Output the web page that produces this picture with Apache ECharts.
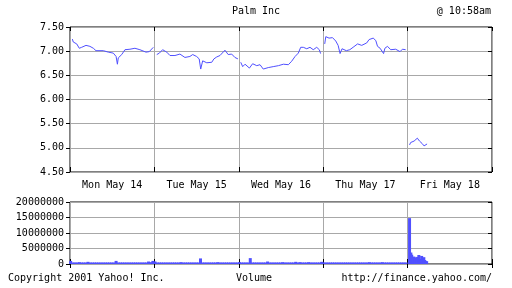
<!DOCTYPE html>
<html><head><meta charset="utf-8">
<script src="https://cdn.jsdelivr.net/npm/echarts@6/dist/echarts.min.js"></script>
<style>html,body{margin:0;padding:0;background:#fff}#c{width:512px;height:288px}</style>
</head><body><div id="c"></div>
<script>
const days = ["Mon May 14","Tue May 15","Wed May 16","Thu May 17","Fri May 18"];
// [minute since open, price]
const monPrice = [[11,7.25],[15,7.19],[31,7.15],[43,7.06],[54,7.08],[74,7.12],[92,7.10],[108,7.06],[120,7.01],[154,7.01],[177,6.98],[200,6.96],[213,6.89],[219,6.73],[223,6.86],[239,6.93],[254,7.03],[277,7.04],[300,7.06],[323,7.03],[351,6.98],[366,6.99],[385,7.08]];
const tuePrice = [[11,6.93],[23,6.96],[38,7.03],[57,6.98],[72,6.91],[95,6.91],[118,6.94],[141,6.87],[164,6.89],[177,6.93],[195,6.89],[207,6.84],[214,6.63],[223,6.80],[242,6.76],[265,6.77],[275,6.84],[288,6.88],[303,6.91],[326,7.02],[341,6.93],[357,6.94],[372,6.87],[386,6.84]];
const wedPrice = [[9,6.77],[18,6.68],[29,6.73],[49,6.65],[64,6.74],[83,6.70],[98,6.72],[113,6.63],[136,6.66],[159,6.68],[183,6.70],[206,6.73],[229,6.72],[244,6.79],[260,6.89],[275,6.96],[286,7.08],[298,7.08],[314,7.05],[329,7.08],[344,7.03],[360,7.08],[372,7.03],[378,6.95]];
const thuPrice = [[7,7.15],[12,7.30],[27,7.27],[43,7.28],[58,7.21],[69,7.12],[78,6.95],[87,7.05],[107,7.01],[123,7.03],[138,7.08],[159,7.15],[178,7.12],[201,7.17],[212,7.24],[231,7.27],[243,7.22],[251,7.10],[263,7.06],[279,6.95],[285,7.06],[297,7.10],[312,7.03],[335,7.04],[355,6.99],[366,7.04],[381,7.03]];
const friPrice = [[9,5.06],[14,5.11],[30,5.14],[45,5.20],[55,5.14],[67,5.09],[76,5.04],[90,5.08]];
// volume every 10 minutes (millions)
const monVol = [1.0,0.5,0.5,0.5,0.6,0.5,0.5,0.5,0.7,0.5,0.5,0.5,0.5,0.5,0.5,0.5,0.5,0.5,0.5,0.5,0.5,1.0,0.5,0.5,0.5,0.5,0.5,0.5,0.5,0.5,0.5,0.5,0.5,0.5,0.5,0.5,0.8,0.6,1.0];
const tueVol = [0.8,0.5,0.5,0.5,0.5,0.5,0.5,0.5,0.5,0.5,0.5,0.5,0.6,0.5,0.5,0.5,0.5,0.5,0.5,0.5,0.5,1.8,0.5,0.5,0.5,0.5,0.5,0.5,0.5,0.6,0.5,0.5,0.5,0.5,0.5,0.5,0.5,0.5,0.5];
const wedVol = [0.6,0.5,0.5,0.5,0.5,1.9,0.5,0.5,0.5,0.5,0.5,0.5,0.5,0.8,0.5,0.5,0.5,0.5,0.5,0.5,0.6,0.5,0.5,0.5,0.5,0.5,0.7,0.5,0.6,0.5,0.5,0.5,0.6,0.5,0.5,0.5,0.5,0.5,0.7];
const thuVol = [0.5,0.5,0.5,0.5,0.5,0.5,0.5,0.5,0.5,0.5,0.5,0.5,0.5,0.5,0.5,0.5,0.5,0.5,0.5,0.5,0.5,0.6,0.5,0.5,0.5,0.5,0.5,0.6,0.5,0.5,0.5,0.5,0.5,0.5,0.5,0.5,0.5,0.5,0.5];
const friVol = [[9,14.8],[15,3.7],[19,3.0],[24,2.2],[29,2.4],[33,2.0],[38,1.8],[42,2.2],[47,2.3],[52,2.9],[56,1.5],[61,1.6],[65,2.6],[70,1.8],[75,2.2],[79,1.3],[84,1.0],[88,0.9]];

const DAY = 390;
const priceData = [];
[monPrice,tuePrice,wedPrice,thuPrice,friPrice].forEach((arr,d)=>{
  arr.forEach(p=>priceData.push([d*DAY+p[0],p[1]]));
  priceData.push([d*DAY+DAY-1,null]);
});
const volData = [];
[monVol,tueVol,wedVol,thuVol].forEach((arr,d)=>{
  arr.forEach((v,i)=>volData.push([d*DAY+i*10+3,v*1e6]));
});
friVol.forEach(p=>volData.push([4*DAY+p[0],p[1]*1e6]));

const FONT = 'DejaVu Sans Mono';
const GRID = '#a8a8a8';
const BLUE = '#5050ff';
const txt = {fontFamily:FONT,fontSize:10,color:'#000',fontWeight:'normal'};

const chart = echarts.init(document.getElementById('c'),null,{renderer:'canvas'});
function catX(g){return {type:'category',gridIndex:g,data:days,position:'bottom',boundaryGap:true,
  axisLine:{show:false},axisTick:{show:true,inside:true,length:5,lineStyle:{color:'#000'}},
  splitLine:{show:true,lineStyle:{color:GRID,width:1}},
  axisLabel:{show:g===0,margin:8,fontFamily:FONT,fontSize:10,color:'#000'}};}
function valX(g){return {type:'value',gridIndex:g,min:0,max:5*DAY,interval:DAY,position:'top',
  axisLine:{show:false},axisTick:{show:true,inside:true,length:4,lineStyle:{color:'#000'}},
  axisLabel:{show:false},splitLine:{show:false}};}
chart.setOption({
  animation:false,
  backgroundColor:'#fff',
  title:[
    {text:'Palm Inc',left:'center',top:6,padding:0,textStyle:txt},
    {text:'@ 10:58am',right:21,top:6,padding:0,textStyle:txt},
    {text:'Copyright 2001 Yahoo! Inc.',left:8,top:273,padding:0,textStyle:txt},
    {text:'Volume',left:236,top:273,padding:0,textStyle:txt},
    {text:'http://finance.yahoo.com/',right:20,top:273,padding:0,textStyle:txt}
  ],
  grid:[
    {left:70,top:27,width:422,height:145,show:true,borderColor:'#000',borderWidth:1,backgroundColor:'transparent'},
    {left:70,top:202,width:422,height:62,show:true,borderColor:'#000',borderWidth:1,backgroundColor:'transparent'}
  ],
  xAxis:[catX(0),valX(0),catX(1),valX(1)],
  yAxis:[
    {type:'value',gridIndex:0,min:4.5,max:7.5,interval:0.5,position:'left',
     axisLine:{show:false},axisTick:{show:true,length:4,lineStyle:{color:'#000'}},
     splitLine:{show:true,lineStyle:{color:GRID}},
     axisLabel:{margin:6,fontFamily:FONT,fontSize:10,color:'#000',formatter:v=>v.toFixed(2)}},
    {type:'value',gridIndex:0,min:4.5,max:7.5,interval:0.5,position:'right',
     axisLine:{show:false},axisTick:{show:true,inside:true,length:4,lineStyle:{color:'#000'}},
     splitLine:{show:false},axisLabel:{show:false}},
    {type:'value',gridIndex:1,min:0,max:20000000,interval:5000000,position:'left',
     axisLine:{show:false},axisTick:{show:true,length:4,lineStyle:{color:'#000'}},
     splitLine:{show:true,lineStyle:{color:GRID}},
     axisLabel:{margin:6,fontFamily:FONT,fontSize:10,color:'#000',formatter:v=>String(v)}},
    {type:'value',gridIndex:1,min:0,max:20000000,interval:5000000,position:'right',
     axisLine:{show:false},axisTick:{show:true,inside:true,length:4,lineStyle:{color:'#000'}},
     splitLine:{show:false},axisLabel:{show:false}}
  ],
  series:[
    {type:'line',xAxisIndex:1,yAxisIndex:0,data:priceData,showSymbol:false,connectNulls:false,
     lineStyle:{color:BLUE,width:1},itemStyle:{color:BLUE}},
    {type:'bar',xAxisIndex:3,yAxisIndex:2,data:volData,barWidth:3,itemStyle:{color:BLUE}}
  ]
});
</script></body></html>
